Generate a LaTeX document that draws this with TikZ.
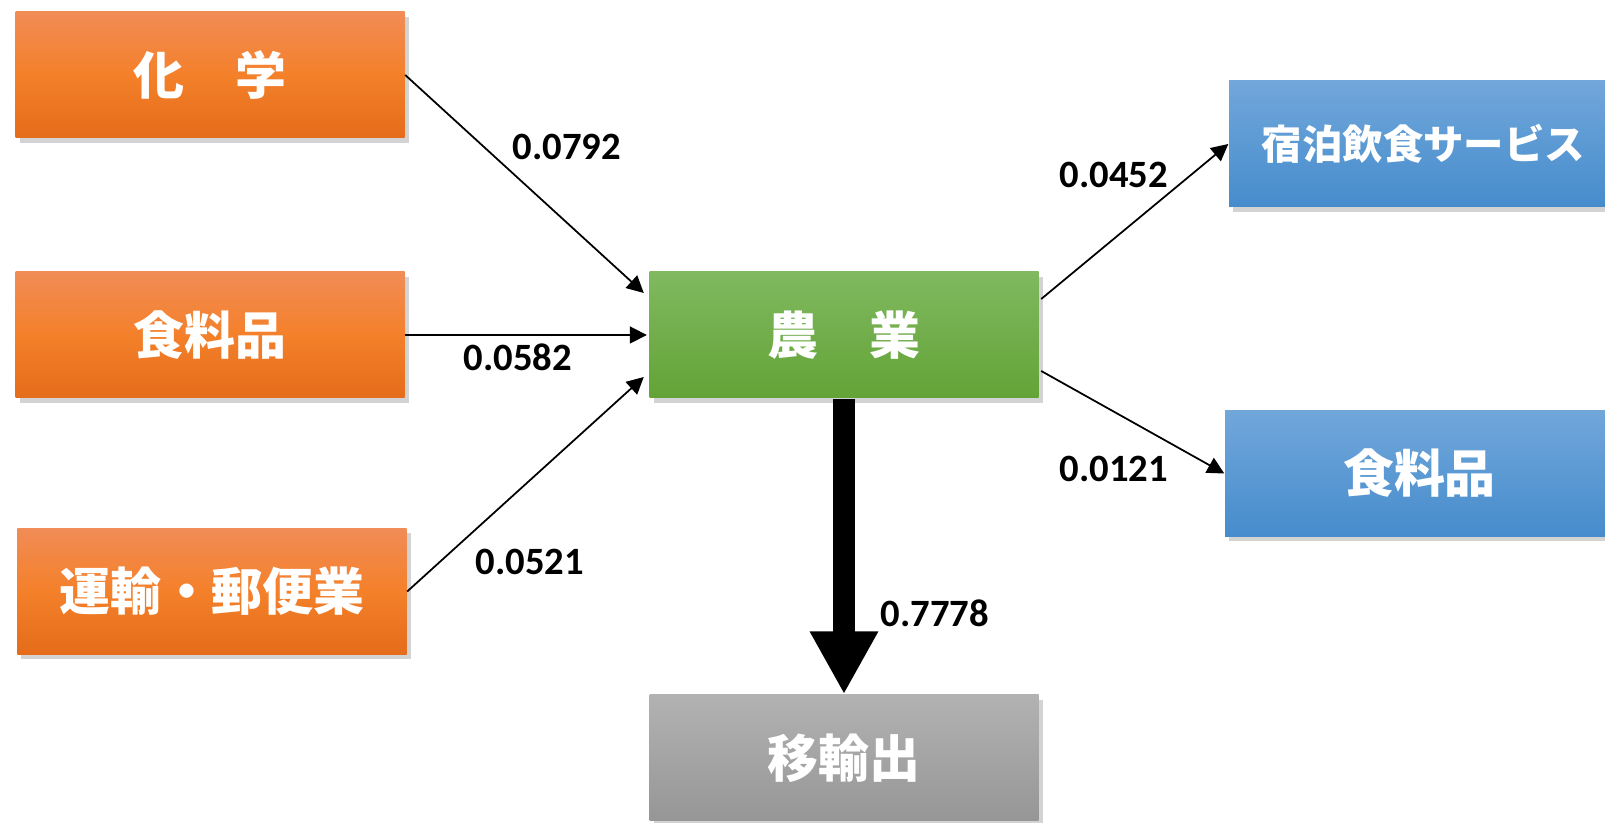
\documentclass[tikz,border=0pt]{standalone}
\usepackage{fontspec}
\setmainfont{Carlito}
\newfontfamily\jpfont{Noto Sans CJK JP}
\usetikzlibrary{arrows.meta,shadows}

\begin{document}
\begin{tikzpicture}[
        box/.style={minimum width=3.89cm,minimum height=1.26cm,inner sep=0pt,
          text=white,font=\jpfont\bfseries\fontsize{14.5}{16}\selectfont,
          drop shadow={shadow xshift=0.04cm,shadow yshift=-0.05cm,opacity=0.35}},
        supply/.style={box,top color={rgb,255:red,241;green,140;blue,86},bottom color={rgb,255:red,228;green,108;blue,26},middle color={rgb,255:red,244;green,128;blue,42}},
        core/.style={box,top color={rgb,255:red,128;green,185;blue,96},bottom color={rgb,255:red,99;green,163;blue,54}},
        demand/.style={box,top color={rgb,255:red,113;green,167;blue,219},bottom color={rgb,255:red,70;green,140;blue,204}},
        outside/.style={box,top color={rgb,255:red,178;green,178;blue,178},bottom color={rgb,255:red,150;green,150;blue,150}},
        flow/.style={-{Triangle[length=4.8pt,width=4.8pt]},line width=0.5pt},
        coef/.style={font=\bfseries\fontsize{11}{13}\selectfont}
      ]
      \useasboundingbox (0,0) rectangle (16.05,8.23);
      % Input sectors
      \node[supply] (kagaku) at (2.10,7.48) {化　学};
      \node[supply] (shokuL) at (2.10,4.88) {食料品};
      \node[supply] (unyu) at (2.12,2.315) {運輸・郵便業};
      % Agriculture
      \node[core] (nogyo) at (8.44,4.88) {農　業};
      \node[outside] (export) at (8.44,0.65) {移輸出};
      % Output sectors
      \node[demand,font=\jpfont\bfseries\fontsize{11.5}{13}\selectfont] (shukuhaku) at (14.235,6.79) {宿泊飲食サービス};
      \node[demand] (shokuR) at (14.195,3.495) {食料品};

      \draw[flow] (kagaku.east) -- ([xshift=-0.05cm,yshift=0.42cm]nogyo.west);
      \draw[flow] (shokuL.east) -- ([xshift=-0.02cm]nogyo.west);
      \draw[flow] (unyu.east) -- ([xshift=-0.05cm,yshift=-0.42cm]nogyo.west);
      \draw[flow] ([xshift=0.02cm,yshift=0.36cm]nogyo.east) -- (shukuhaku.west);
      \draw[flow] ([xshift=0.02cm,yshift=-0.36cm]nogyo.east) -- (shokuR.west);
      \draw[-{Triangle[length=0.63cm,width=0.64cm]},line width=0.22cm] (nogyo.south) -- (export.north);

      \node[coef] (c1) at (5.67,6.76) {0.0792};
      \node[coef] (c2) at (5.18,4.66) {0.0582};
      \node[coef] (c3) at (5.30,2.61) {0.0521};
      \node[coef] (c4) at (9.35,2.10) {0.7778};
      \node[coef] (c5) at (11.14,6.48) {0.0452};
      \node[coef] (c6) at (11.14,3.54) {0.0121};
    \end{tikzpicture}
\end{document}
